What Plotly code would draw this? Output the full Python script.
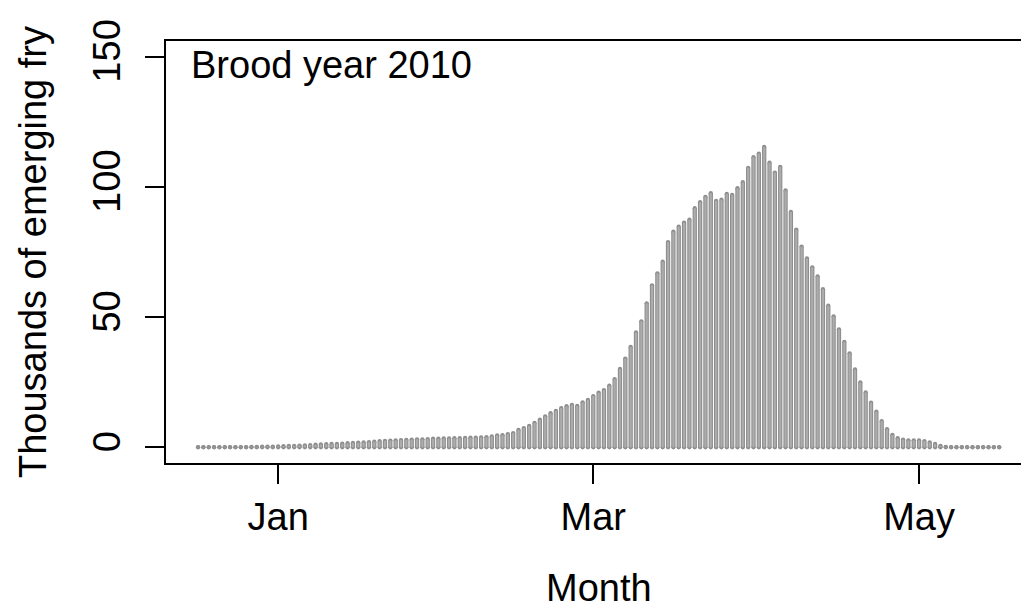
import pandas as pd
import plotly.graph_objects as go

# Daily emergence of fry (thousands), brood year 2010, starting 17 Dec 2010
start_date = "2010-12-17"
fry_thousands = [
    0.1, 0.1, 0.1, 0.1, 0.1, 0.1, 0.1, 0.1, 0.1, 0.1,
    0.2, 0.2, 0.3, 0.3, 0.3,
    0.4,
    0.5, 0.6, 0.6, 0.7, 0.8, 0.9,
    1.0, 1.1, 1.2, 1.3, 1.3, 1.4,
    1.6, 1.7, 1.8, 1.9, 2.0, 2.2,
    2.4, 2.5, 2.6, 2.7, 2.8, 2.9, 3.0,
    3.1, 3.1, 3.2, 3.3, 3.3, 3.4, 3.4, 3.5, 3.5, 3.6,
    3.7, 3.7, 3.8, 3.9, 4.2, 4.6,
    4.7, 5.1, 5.5, 6.7, 7.4, 8.2, 9.4, 10.6, 11.9, 13.1, 14.0, 15.1, 15.8,
    16.3, 15.9, 17.3, 18.2, 19.7, 21.0, 22.0, 23.7, 26.2, 30.1, 34.1, 38.6,
    44.1, 48.4,
    55.3, 62.2, 66.8, 71.3, 78.8, 82.8, 84.7, 86.3, 87.4, 91.8, 94.1, 96.2,
    97.6, 94.6, 95.1, 97.3, 96.9, 99.5, 101.8, 107.3, 111.4, 112.8, 115.3,
    109.3, 105.5, 107.7, 98.6,
    90.4, 83.6, 77.1, 72.5, 69.1, 65.6, 60.7, 54.4, 50.3, 45.3, 40.5, 36.1,
    29.9, 24.9, 21.1, 17.2, 13.7, 10.1, 7.0,
    4.8, 3.5, 3.0, 2.7, 2.7, 2.7, 2.4, 1.9, 1.3, 0.6, 0.2,
    0.1, 0.1, 0.1, 0.1, 0.1, 0.1, 0.1, 0.1, 0.1, 0.1,
]

month_ticks = ["2011-01-01", "2011-03-01", "2011-05-01"]
month_labels = ["Jan", "Mar", "May"]
y_ticks = [0, 50, 100, 150]

title_text = "Brood year 2010"
x_title = "Month"
y_title = "Thousands of emerging fry"

FONT = "Liberation Sans, Arial, Helvetica, sans-serif"
FS = 38

dates = pd.date_range(start_date, periods=len(fry_thousands), freq="D")

# Build vertical "h"-type spikes from 0 to each day's value
xs, ys = [], []
for d, v in zip(dates, fry_thousands):
    xs += [d, d, None]
    ys += [0, v, None]

fig = go.Figure()
fig.add_trace(go.Scatter(
    x=xs, y=ys, mode="lines+markers",
    line=dict(color="#8e8e8e", width=4.3),
    marker=dict(color="#8e8e8e", size=4.3),
    hoverinfo="skip", showlegend=False,
))
fig.add_trace(go.Scatter(
    x=xs, y=ys, mode="lines",
    line=dict(color="#acacac", width=2.2),
    hoverinfo="skip", showlegend=False,
))

fig.update_layout(
    width=1021, height=613,
    margin=dict(l=166, r=0, t=41, b=150),
    paper_bgcolor="white", plot_bgcolor="white",
    font=dict(family=FONT, size=FS, color="black"),
    xaxis=dict(
        type="date",
        range=["2010-12-11", "2011-05-20 02:00"],
        tickvals=month_ticks, ticktext=month_labels,
        ticks="outside", ticklen=19, tickwidth=1.5, tickcolor="black",
        showline=True, linewidth=1.8, linecolor="black", mirror=True,
        showgrid=False, zeroline=False,
        tickfont=dict(family=FONT, size=FS, color="black"),
    ),
    yaxis=dict(
        range=[-6, 156],
        tickvals=y_ticks,
        tickangle=-90,
        ticks="outside", ticklen=19, tickwidth=1.5, tickcolor="black",
        ticklabelstandoff=10,
        showline=True, linewidth=1.8, linecolor="black",
        showgrid=False, zeroline=False,
        tickfont=dict(family=FONT, size=FS, color="black"),
    ),
    annotations=[
        dict(text=title_text, xref="paper", yref="paper",
             x=0.027, y=0.9431, xanchor="left", yanchor="middle",
             showarrow=False, font=dict(family=FONT, size=FS)),
        dict(text=x_title, xref="paper", yref="paper",
             x=0.506, y=(463 - 588) / 422, xanchor="center", yanchor="middle",
             showarrow=False, font=dict(family=FONT, size=FS)),
        dict(text=y_title, xref="paper", yref="paper",
             x=(33 - 166) / 855, y=0.5, xanchor="center", yanchor="middle",
             textangle=-90, showarrow=False, font=dict(family=FONT, size=FS)),
    ],
)

fig.write_html("out.html")
